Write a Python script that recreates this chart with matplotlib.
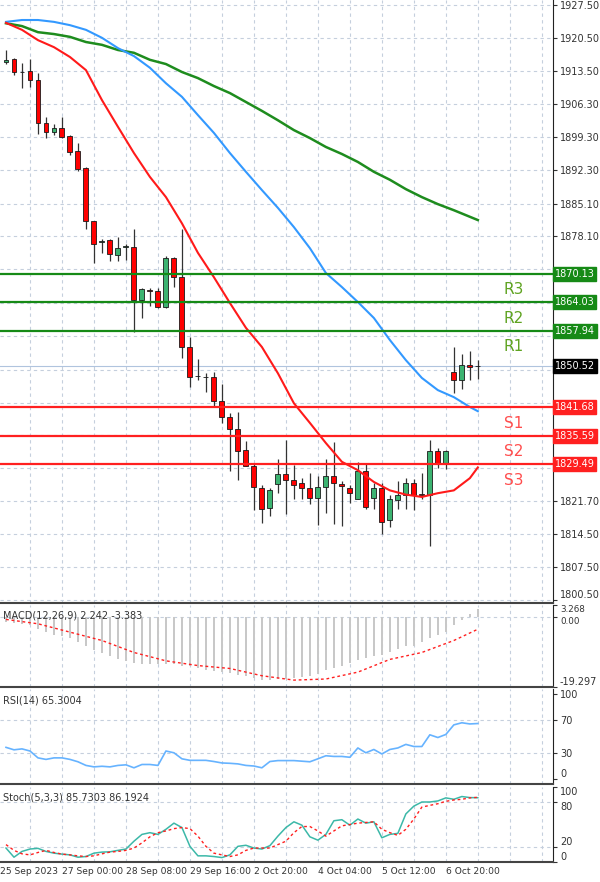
import matplotlib
matplotlib.use("Agg")
import matplotlib.pyplot as plt
import numpy as np

opens  = [1915.3,1916.0,1913.3,1913.5,1911.5,1902.4,1900.3,1901.3,1899.6,1896.4,1892.8,1881.4,1877.0,1877.3,1874.2,1875.9,1875.9,1864.5,1866.7,1866.5,
          1863.0,1873.5,1869.4,1854.5,1848.4,1848.2,1848.1,1843.0,1839.6,1837.0,1832.5,1829.1,1824.4,1820.1,1825.3,1827.3,1826.2,1825.5,1824.5,1822.2,
          1824.7,1827.0,1825.3,1824.4,1822.1,1828.1,1822.2,1824.5,1817.5,1821.9,1822.9,1825.4,1823.2,1823.0,1832.3,1829.5,1849.2,1847.5,1850.7,1850.4]
highs  = [1918.0,1916.2,1915.1,1916.0,1913.0,1903.6,1902.0,1903.6,1899.8,1898.0,1892.9,1881.5,1877.6,1877.6,1878.0,1876.5,1879.6,1867.2,1867.0,1867.0,
          1873.9,1873.7,1879.7,1856.6,1852.0,1849.0,1849.2,1846.5,1840.5,1840.6,1834.5,1829.5,1825.0,1824.5,1830.5,1834.7,1829.4,1826.5,1827.7,1827.0,
          1830.5,1834.3,1826.0,1825.0,1830.0,1829.5,1825.5,1825.5,1823.0,1826.0,1826.5,1826.3,1827.7,1834.6,1833.0,1832.5,1854.5,1853.0,1853.7,1851.8]
lows   = [1915.0,1912.5,1909.8,1910.0,1900.0,1899.2,1899.8,1899.2,1895.4,1892.0,1879.7,1872.4,1874.5,1872.9,1872.9,1873.0,1857.7,1860.7,1863.3,1862.8,
          1862.8,1867.3,1852.2,1846.0,1847.5,1845.0,1841.9,1838.3,1828.0,1826.2,1829.0,1819.7,1817.0,1818.4,1823.4,1818.9,1822.0,1822.0,1820.9,1816.5,
          1819.0,1816.8,1816.4,1821.3,1822.0,1820.0,1820.0,1814.6,1816.0,1820.0,1820.0,1819.8,1822.0,1812.0,1828.6,1828.5,1844.6,1845.5,1847.4,1847.6]
closes = [1915.8,1913.3,1913.2,1911.5,1902.4,1900.3,1901.3,1899.4,1896.2,1892.4,1881.3,1876.5,1877.1,1874.4,1875.6,1876.0,1864.5,1866.9,1866.5,1863.0,
          1873.5,1869.4,1854.5,1848.1,1848.3,1848.1,1843.0,1839.6,1837.0,1832.3,1829.1,1824.6,1819.9,1824.0,1827.3,1826.2,1825.1,1824.5,1822.2,1824.6,
          1827.0,1825.5,1824.8,1823.4,1828.1,1820.3,1824.4,1817.2,1822.1,1822.9,1825.4,1823.0,1823.0,1832.3,1829.5,1832.3,1847.5,1850.7,1850.3,1850.5]

ma_idx   = [0,2,4,6,8,10,12,14,16,18,20,22,24,26,28,30,32,34,36,38,40,42,44,46,48,50,52,54,56,58,59]
ma_green = [1923.6,1923.0,1921.7,1921.3,1920.7,1919.6,1919.0,1917.9,1917.3,1915.8,1914.9,1913.2,1911.9,1910.2,1908.7,1906.8,
            1904.9,1902.9,1900.8,1899.1,1897.2,1895.7,1894.0,1891.9,1890.2,1888.2,1886.5,1885.0,1883.7,1882.3,1881.6]
ma_blue  = [1923.9,1924.3,1924.3,1923.9,1923.2,1922.2,1920.5,1918.3,1916.6,1914.1,1910.8,1907.9,1904.0,1900.2,1895.9,1891.9,
            1888.0,1884.2,1880.1,1875.6,1870.3,1867.3,1864.1,1860.7,1856.0,1851.7,1847.9,1845.3,1843.8,1841.7,1840.8]
ma_red   = [1923.7,1922.2,1920.0,1918.5,1916.4,1913.6,1907.2,1901.5,1895.9,1890.8,1886.5,1880.9,1874.6,1869.4,1863.9,1858.6,
            1854.5,1848.9,1842.5,1838.3,1834.0,1830.0,1828.2,1825.7,1823.9,1823.0,1822.5,1823.3,1823.9,1826.5,1828.8]

res_levels = [1870.13,1864.03,1857.94]
res_names  = ["R3","R2","R1"]
sup_levels = [1841.68,1835.59,1829.49]
sup_names  = ["S1","S2","S3"]
last_price = 1850.52

price_ticks = [1927.50,1920.50,1913.50,1906.30,1899.30,1892.30,1885.10,1878.10,1821.70,1814.50,1807.50,1800.50]
grid_prices = [1927.50,1920.50,1913.50,1906.30,1899.30,1892.30,1885.10,1878.10,1871.10,1863.90,1856.90,1849.70,1842.60,1835.70,1828.70,1821.70,1814.50,1807.50,1800.50]

macd_hist = [-1.4,-1.6,-1.9,-2.3,-3.3,-4.2,-5.0,-5.3,-5.9,-6.8,-7.9,-9.1,-10.0,-10.9,-11.7,-12.1,-12.6,-13.1,-13.1,-13.1,
             -13.1,-13.1,-13.4,-13.6,-14.0,-14.5,-15.0,-15.2,-15.4,-15.9,-16.4,-16.8,-17.3,-17.3,-17.1,-17.1,-16.9,-16.5,-16.2,-15.6,
             -14.7,-14.0,-13.4,-12.6,-11.9,-11.2,-10.7,-10.6,-9.8,-8.9,-7.9,-7.9,-7.0,-5.9,-5.1,-4.2,-2.3,-0.9,0.7,2.24]
sig_idx   = [0,4,8,12,16,20,24,28,32,36,40,44,48,52,56,59]
macd_sig  = [-0.7,-1.9,-4.2,-6.5,-9.8,-12.1,-13.4,-14.2,-16.2,-17.4,-17.1,-15.2,-11.7,-9.8,-6.5,-3.4]

rsi = [37.2,34.3,35.4,32.9,24.8,23.0,24.8,24.8,23.0,20.2,15.9,14.2,14.9,14.2,15.9,16.6,13.1,17.0,17.0,15.9,
       32.9,30.8,23.7,21.9,21.9,21.9,20.5,18.8,18.4,17.7,15.9,15.2,13.1,20.5,21.6,21.6,21.6,20.9,20.2,23.7,
       27.3,26.5,26.5,25.5,36.5,30.8,34.7,29.4,34.7,36.5,40.7,38.2,38.2,52.0,48.8,52.4,63.7,66.2,64.8,65.3]
stoch_k = [18.6,6.4,14.1,17.3,18.2,14.1,11.8,10.5,9.5,6.4,7.3,11.8,13.2,13.6,15.5,17.3,27.7,36.8,39.1,36.8,
           43.6,51.8,45.9,20.9,8.2,8.2,7.3,5.9,9.5,20.9,22.3,18.6,17.3,21.8,34.5,45.9,53.6,49.1,33.6,29.1,
           36.8,55.0,56.4,49.1,57.3,51.8,53.6,32.3,36.8,38.2,64.1,74.5,80.0,80.0,81.4,85.5,83.6,87.3,85.9,85.7]
stoch_d = [23.2,15.5,10.9,9.5,12.7,15.5,12.7,10.5,9.5,8.2,7.3,8.2,10.9,13.2,14.1,15.5,18.6,25.5,33.6,39.1,
           41.4,44.5,45.9,44.5,34.5,20.9,11.8,9.5,7.3,9.5,15.5,18.6,18.6,18.6,23.2,27.7,39.1,47.3,47.3,41.4,
           34.5,41.4,48.2,50.0,51.8,52.7,53.6,43.6,39.1,35.5,43.6,57.3,73.2,75.5,77.7,80.9,82.7,83.6,85.5,86.2]

date_labels = ["25 Sep 2023","27 Sep 00:00","28 Sep 08:00","29 Sep 16:00","2 Oct 20:00","4 Oct 04:00","5 Oct 12:00","6 Oct 20:00"]
date_pos    = [-0.75,7,15,23,31,39,47,55]

n = len(opens)
x = np.arange(n)
XL = (-0.75, 68.4)
GRID = dict(color="#c5cfdd", linestyle=(0, (3, 3)), linewidth=0.8)
TXT = "#333333"
FS = 7

fig = plt.figure(figsize=(6, 8.82), dpi=100)
W = 553/600
ax = fig.add_axes([0, 1-603/882, W, 603/882])
axm = fig.add_axes([0, 1-687/882, W, 82/882])
axr = fig.add_axes([0, 1-784/882, W, 95/882])
axs = fig.add_axes([0, 1-862/882, W, 75/882])

vgrid = np.arange(3, 68, 4)
for a in (ax, axm, axr, axs):
    a.set_xlim(*XL)
    a.set_xticks([])
    for xv in vgrid:
        a.axvline(xv, zorder=0, **GRID)
    a.yaxis.tick_right()
    a.tick_params(axis="y", length=3, labelsize=FS, colors=TXT, pad=2)
    for s in ("top", "left"):
        a.spines[s].set_visible(False)
    a.spines["right"].set_color("#222222")
    a.spines["bottom"].set_color("#444444")
    a.spines["bottom"].set_linewidth(1.5)

# main panel
ax.set_ylim(1799.86, 1928.57)
ax.set_yticks(price_ticks)
ax.set_yticklabels([f"{v:.2f}" for v in price_ticks])
pl = ax.get_yticklabels()
pl[-1].set_va("bottom")
for yv in grid_prices:
    ax.axhline(yv, zorder=0, **GRID)
o = np.array(opens); c = np.array(closes)
up = c >= o
ax.vlines(x, lows, highs, color="#333333", linewidth=0.9, zorder=2)
ax.bar(x[up], (c-o)[up], bottom=o[up], width=0.62, color="#3cb371", edgecolor="#1a1a1a", linewidth=0.6, zorder=3)
ax.bar(x[~up], (o-c)[~up], bottom=c[~up], width=0.62, color="#ff0000", edgecolor="#1a1a1a", linewidth=0.6, zorder=3)
ax.plot(ma_idx, ma_green, color="#1e8c1e", linewidth=1.8, zorder=4)
ax.plot(ma_idx, ma_blue, color="#3399ff", linewidth=1.5, zorder=4)
ax.plot(ma_idx, ma_red, color="#ff1a1a", linewidth=1.5, zorder=4)
ax.axhline(last_price, color="#b0c4de", linewidth=0.8, zorder=1)
for lv, nm in zip(res_levels, res_names):
    ax.axhline(lv, color="#168a16", linewidth=1.6, zorder=5)
    ax.text(63.5, lv-1.8, nm, color="#5fa321", fontsize=11, va="top", ha="center")
    ax.text(1.003, lv, f"{lv:.2f}", transform=ax.get_yaxis_transform(), fontsize=FS, color="white",
            va="center", ha="left", bbox=dict(boxstyle="square,pad=0.2", fc="#168a16", ec="#168a16"), zorder=10, clip_on=False)
for lv, nm in zip(sup_levels, sup_names):
    ax.axhline(lv, color="#ff2020", linewidth=1.6, zorder=5)
    ax.text(63.5, lv-1.8, nm, color="#ff4d4d", fontsize=11, va="top", ha="center")
    ax.text(1.003, lv, f"{lv:.2f}", transform=ax.get_yaxis_transform(), fontsize=FS, color="white",
            va="center", ha="left", bbox=dict(boxstyle="square,pad=0.2", fc="#ff2020", ec="#ff2020"), zorder=10, clip_on=False)
ax.text(1.003, last_price, f"{last_price:.2f}", transform=ax.get_yaxis_transform(), fontsize=FS, color="white",
        va="center", ha="left", bbox=dict(boxstyle="square,pad=0.2", fc="black", ec="black"), zorder=10, clip_on=False)

# MACD
axm.set_ylim(-19.297, 3.268)
axm.set_yticks([3.268, 0.0, -19.297])
axm.set_yticklabels(["3.268", "0.00", "-19.297"])
lbls = axm.get_yticklabels()
lbls[0].set_va("top"); lbls[0].set_fontsize(6.3)
lbls[1].set_va("top"); lbls[1].set_fontsize(6.3)
lbls[2].set_va("bottom")
axm.axhline(0, **GRID)
axm.bar(x, macd_hist, width=0.2, color="#c8c8c8", zorder=2)
axm.plot(sig_idx, macd_sig, color="#ff2020", linestyle=(0, (2, 2)), linewidth=1.0, zorder=3)
axm.text(0.005, 0.93, "MACD(12,26,9) 2.242 -3.383", transform=axm.transAxes, fontsize=FS, color=TXT, va="top")

# RSI
axr.set_ylim(-6, 106)
axr.set_yticks([100, 70, 30, 0])
rl = axr.get_yticklabels()
rl[3].set_va("bottom")
for yv in (70, 30):
    axr.axhline(yv, **GRID)
axr.plot(x, rsi, color="#66b3ff", linewidth=1.2)
axr.text(0.005, 0.93, "RSI(14) 65.3004", transform=axr.transAxes, fontsize=FS, color=TXT, va="top")

# Stochastic
axs.set_ylim(0, 100)
axs.set_yticks([100, 80, 20, 0])
axs.set_yticklabels(["100", "80", "20", "0"])
sl = axs.get_yticklabels()
sl[0].set_va("top"); sl[1].set_va("top"); sl[2].set_va("bottom"); sl[3].set_va("bottom")
for yv in (80, 20):
    axs.axhline(yv, **GRID)
axs.plot(x, stoch_k, color="#3cb8a8", linewidth=1.1)
axs.plot(x, stoch_d, color="#ff2020", linestyle=(0, (2, 2)), linewidth=1.0)
axs.text(0.005, 0.93, "Stoch(5,3,3) 85.7303 86.1924", transform=axs.transAxes, fontsize=FS, color=TXT, va="top")
for p, lab in zip(date_pos, date_labels):
    axs.text(p, -6, lab, fontsize=6.6, color=TXT, ha="left", va="top", clip_on=False)

fig.savefig("out.png", dpi=100, facecolor="white")
